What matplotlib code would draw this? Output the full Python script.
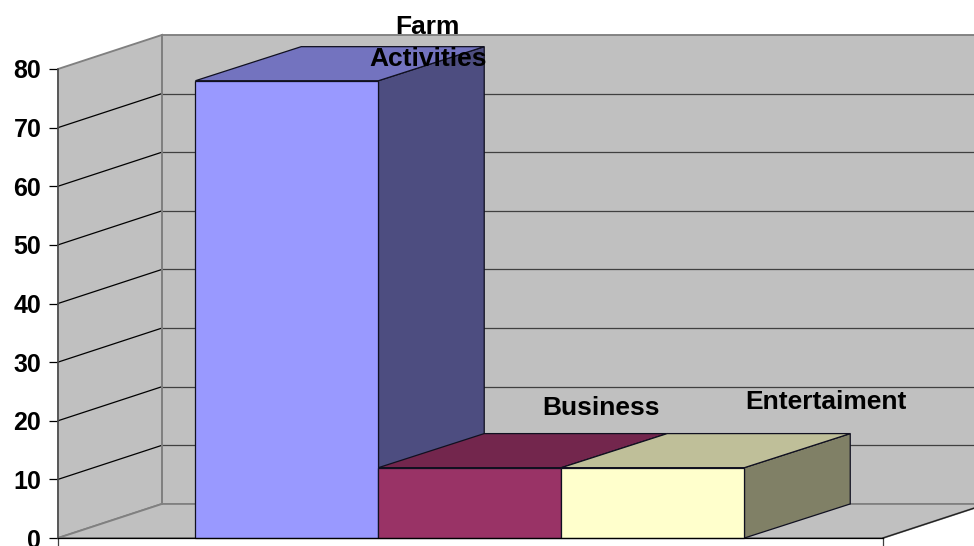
import matplotlib
matplotlib.use("Agg")
import matplotlib.pyplot as plt
from matplotlib.patches import Polygon

plt.rcParams['font.family'] = ['Liberation Sans', 'DejaVu Sans']

categories = ['Farm\nActivities', 'Business', 'Entertaiment']
values = [78, 12, 12]
y_ticks = [0, 10, 20, 30, 40, 50, 60, 70, 80]

front_colors = ['#9999FF', '#993366', '#FFFFCC']
top_colors = ['#7373BF', '#73264D', '#BFBF99']
side_colors = ['#4D4D80', '#4D1A33', '#808066']

# oblique offset of the back plane, in data units
WALL_DEPTH_X = 0.568
BAR_DEPTH_X = 0.578
DEPTH_Y = 5.81
X_MIN, X_MAX = -1.251, 3.257
Y_MAX = 80
WALL = '#C0C0C0'
EDGE = '#808080'
LW = 0.9


def back(x, y, depth_x=WALL_DEPTH_X):
    return (x + depth_x, y + DEPTH_Y)


def draw_walls(ax):
    # side wall, back wall and floor behind the bars
    side = [(X_MIN, 0), (X_MIN, Y_MAX), back(X_MIN, Y_MAX), back(X_MIN, 0)]
    rear = [back(X_MIN, 0), back(X_MIN, Y_MAX), back(X_MAX, Y_MAX), back(X_MAX, 0)]
    floor = [(X_MIN, 0), (X_MAX, 0), back(X_MAX, 0), back(X_MIN, 0)]
    for pts in (side, rear, floor):
        ax.add_patch(Polygon(pts, closed=True, facecolor=WALL, edgecolor=EDGE,
                             lw=LW * 1.5, clip_on=False, zorder=1))
    ax.plot(*zip((X_MAX, 0), back(X_MAX, 0)), color='#202020', lw=LW, clip_on=False, zorder=1.5)

    for tick in y_ticks[1:-1]:
        ax.plot(*zip((X_MIN, tick), back(X_MIN, tick)), color='black', lw=LW,
                clip_on=False, zorder=2)
        ax.plot(*zip(back(X_MIN, tick), back(X_MAX, tick)), color='#404040', lw=LW,
                clip_on=False, zorder=2)
    # redraw the rear corner above the grid lines
    ax.plot(*zip(back(X_MIN, 0), back(X_MIN, Y_MAX)), color=EDGE, lw=LW * 1.5,
            clip_on=False, zorder=2.1)


def draw_bar(ax, x, value, front, top, side):
    left, right = x - 0.5, x + 0.5
    faces = [
        ([(right, 0), (right, value), back(right, value, BAR_DEPTH_X), back(right, 0, BAR_DEPTH_X)], side),
        ([(left, value), (right, value), back(right, value, BAR_DEPTH_X), back(left, value, BAR_DEPTH_X)], top),
        ([(left, 0), (right, 0), (right, value), (left, value)], front),
    ]
    for pts, color in faces:
        ax.add_patch(Polygon(pts, closed=True, facecolor=color, edgecolor='#101020',
                             lw=LW, clip_on=False, zorder=3))


def main():
    fig = plt.figure(figsize=(9.74, 5.46), dpi=100)
    ax = fig.add_axes([58 / 974, 8 / 546, 825 / 974, 469 / 546])
    ax.patch.set_visible(False)
    ax.set_xlim(X_MIN, X_MAX)
    ax.set_ylim(0, Y_MAX)

    draw_walls(ax)
    for i, value in enumerate(values):
        draw_bar(ax, i, value, front_colors[i], top_colors[i], side_colors[i])

    # labels sit up and to the right of each bar, above its back edge
    label_offsets = [(0.77, 2.5), (0.716, 9.0), (0.945, 10.0)]
    for i, label in enumerate(categories):
        dx, dy = label_offsets[i]
        ax.text(i + dx, values[i] + dy, label, ha='center', va='baseline',
                fontsize=19, fontweight='bold', color='black', zorder=5,
                linespacing=1.4, clip_on=False)

    for name in ('top', 'right'):
        ax.spines[name].set_visible(False)
    ax.spines['left'].set_color('#505050')
    ax.spines['left'].set_linewidth(LW * 1.3)
    ax.spines['bottom'].set_color('black')
    ax.spines['bottom'].set_linewidth(LW)
    ax.spines['left'].set_zorder(4)
    ax.spines['bottom'].set_zorder(4)

    ax.set_yticks(y_ticks)
    ax.set_xticks([X_MIN, X_MAX])
    ax.set_xticklabels([])
    ax.tick_params(axis='y', length=6.5, width=LW, pad=5.5, labelsize=18)
    ax.tick_params(axis='x', length=8, width=LW, color='#404040')
    for tick_label in ax.get_yticklabels():
        tick_label.set_fontweight('bold')

    fig.savefig("out.png", dpi=100, facecolor='white')


if __name__ == "__main__":
    main()
